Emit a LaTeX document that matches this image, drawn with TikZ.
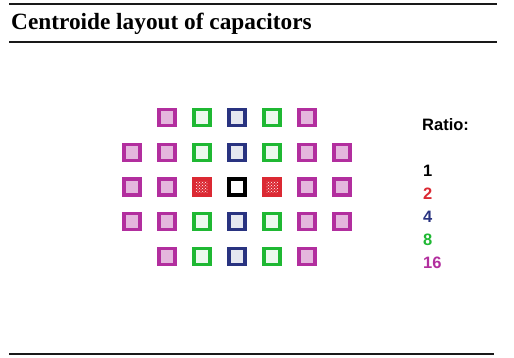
\documentclass[tikz,border=0pt]{standalone}
\usepackage{fontspec}
\setmainfont{Liberation Serif}
\setsansfont{Liberation Sans}
\usetikzlibrary{patterns}
\definecolor{capr}{rgb}{0.86, 0.16, 0.20}
\definecolor{capb}{rgb}{0.16, 0.20, 0.50}
\definecolor{capg}{rgb}{0.12, 0.72, 0.20}
\definecolor{capm}{rgb}{0.70, 0.18, 0.62}
\tikzset{
  capbox/.style={rectangle, draw, line width=3.2pt, minimum size=16pt, inner sep=0pt},
  cap1/.style={capbox, draw=black, fill=white},
  cap2/.style={capbox, draw=capr, preaction={fill=capr}, pattern=crosshatch dots, pattern color=white},
  cap4/.style={capbox, draw=capb, fill=capb!12},
  cap8/.style={capbox, draw=capg, fill=capg!8},
  cap16/.style={capbox, draw=capm, fill=capm!35},
  rule/.style={line width=2.7pt, black!90},
  ratio/.style={font=\sffamily\bfseries\fontsize{16.5}{16.5}\selectfont, anchor=base west, inner sep=0pt},
}

\begin{document}
\begin{tikzpicture}[x=1pt, y=-1pt]
	\useasboundingbox (0,0) rectangle (514,358);

	% title bar
	\draw[rule] (9,4) -- (497,4);
	\node[anchor=base west, inner sep=0pt, font=\bfseries\fontsize{23.3}{23.3}\selectfont] (title) at (11,30) {Centroide layout of capacitors};
	\draw[rule] (9,42) -- (497,42);
	\draw[rule] (9,354) -- (494,354);

	% capacitor array, 0 = no unit
	\foreach \r/\row in {0/{0,16,8,4,8,16,0}, 1/{16,16,8,4,8,16,16}, 2/{16,16,2,1,2,16,16}, 3/{16,16,8,4,8,16,16}, 4/{0,16,8,4,8,16,0}}{
		\foreach \c [count=\i from 0] in \row {
			\ifnum\c>0
				\node[cap\c] (c\r\i) at ({237+35*(\i-3)}, {187+34.7*(\r-2)}) {};
			\fi
		}
	}

	% legend
	\node[ratio] (ratio) at (422,131) {Ratio:};
	\node[ratio] (r1) at (423,177) {1};
	\node[ratio, text=capr] (r2) at (423,200) {2};
	\node[ratio, text=capb] (r4) at (423,223) {4};
	\node[ratio, text=capg] (r8) at (423,246) {8};
	\node[ratio, text=capm] (r16) at (423,269) {16};

\end{tikzpicture}
\end{document}
